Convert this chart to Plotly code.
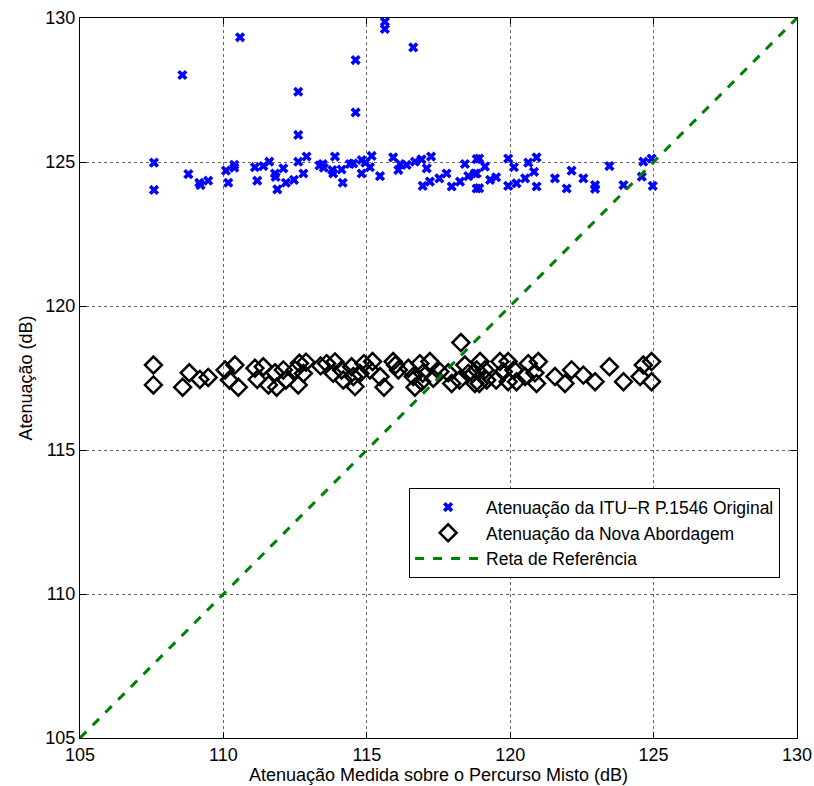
import plotly.graph_objects as go

# Original ITU-R P.1546 attenuation (blue x)
itu_x = [107.58, 107.58, 108.78, 109.16, 109.2, 109.47, 110.09, 110.17, 110.38, 110.38,
         111.10, 111.18, 111.39, 111.60, 111.80, 111.82, 112.09, 111.88, 112.18, 112.46,
         112.61, 112.79, 112.90, 113.46, 113.35, 113.5, 113.89, 113.83, 113.8, 114.12,
         114.16, 114.41, 114.53, 114.82, 114.82, 115.17, 115.11, 114.95, 115.46, 115.92,
         116.10, 116.16, 116.39, 116.68, 116.91, 117.09, 117.24, 116.95, 117.20, 117.53,
         117.78, 117.96, 118.25, 118.42, 118.54, 118.83, 118.83, 118.83, 118.92, 118.77,
         119.12, 118.92, 119.30, 119.51, 119.93, 120.13, 119.93, 120.22, 120.52, 120.63,
         120.92, 120.83, 120.92, 121.56, 121.97, 122.14, 122.55, 122.96, 122.96, 123.46,
         123.95, 124.59, 124.64, 124.93, 124.97,
         108.57, 110.58, 112.61, 112.61, 114.61, 114.61, 115.63, 115.63, 116.62]
itu_y = [124.98, 124.03, 124.58, 124.28, 124.20, 124.35, 124.70, 124.28, 124.90, 124.80,
         124.82, 124.35, 124.86, 125.01, 124.60, 124.48, 124.78, 124.05, 124.28, 124.38,
         125.01, 124.60, 125.19, 124.93, 124.88, 124.80, 125.19, 124.60, 124.72, 124.74,
         124.28, 124.93, 124.95, 125.07, 124.60, 125.21, 124.82, 124.98, 124.51, 125.16,
         124.72, 124.93, 124.90, 125.01, 125.09, 124.78, 125.19, 124.17, 124.32, 124.43,
         124.60, 124.15, 124.32, 124.93, 124.51, 125.10, 124.60, 124.08, 125.12, 124.60,
         124.84, 124.09, 124.38, 124.47, 125.12, 124.82, 124.17, 124.26, 124.43, 124.98,
         125.16, 124.66, 124.15, 124.43, 124.08, 124.70, 124.43, 124.20, 124.07, 124.86,
         124.20, 124.49, 125.01, 125.12, 124.17,
         128.02, 129.33, 127.44, 125.94, 128.54, 126.72, 129.87, 129.62, 128.98]

# New approach attenuation (black diamonds)
nova_x = [107.56, 107.56, 108.58, 108.81, 109.18, 109.47, 110.06, 110.40, 110.21, 110.52,
          111.10, 111.39, 111.18, 111.57, 111.80, 111.86, 112.09, 112.18, 112.50, 112.65,
          112.79, 112.61, 112.88, 113.39, 113.60, 113.83, 113.89, 114.12, 114.18, 114.47,
          114.53, 114.59, 114.76, 114.90, 115.11, 115.20, 115.46, 115.60, 115.92, 116.00,
          116.10, 116.45, 116.62, 116.68, 116.85, 116.95, 116.91, 117.20, 117.32, 117.55,
          117.84, 117.96, 118.28, 118.23, 118.42, 118.54, 118.77, 118.83, 118.95, 118.70,
          119.12, 118.92, 119.18, 119.51, 119.64, 119.76, 119.93, 119.93, 120.13, 120.22,
          120.52, 120.63, 120.86, 120.92, 120.98, 121.56, 121.91, 122.14, 122.55, 122.96,
          123.46, 123.95, 124.53, 124.64, 124.93, 124.93]
nova_y = [117.95, 117.26, 117.18, 117.68, 117.45, 117.52, 117.78, 117.95, 117.43, 117.18,
          117.84, 117.89, 117.45, 117.26, 117.68, 117.18, 117.78, 117.43, 117.78, 118.01,
          117.66, 117.26, 118.05, 117.92, 118.00, 117.66, 118.06, 117.78, 117.43, 117.89,
          117.55, 117.20, 117.66, 118.00, 117.78, 118.07, 117.55, 117.18, 118.07, 117.95,
          117.78, 117.84, 117.55, 117.18, 118.00, 117.66, 117.37, 118.07, 117.49, 117.72,
          117.68, 117.31, 118.73, 117.43, 117.95, 117.66, 117.31, 117.78, 118.07, 117.66,
          117.78, 117.31, 117.43, 117.43, 118.07, 117.72, 118.07, 117.37, 117.78, 117.37,
          117.55, 118.00, 117.68, 117.31, 118.07, 117.55, 117.31, 117.78, 117.60, 117.37,
          117.89, 117.37, 117.55, 117.95, 118.07, 117.37]

# Reference line
ref_x = [105, 130]
ref_y = [105, 130]

tick_vals = [105, 110, 115, 120, 125, 130]

font_family = '"Liberation Sans", Arial, Helvetica, sans-serif'

fig = go.Figure()
fig.add_trace(go.Scatter(
    x=itu_x, y=itu_y, mode="markers", name="Atenuação da ITU−R P.1546 Original",
    marker=dict(symbol="x", size=9, color="#0000ff", line=dict(width=0)),
    legendgroup="a"))
fig.add_trace(go.Scatter(
    x=nova_x, y=nova_y, mode="markers", name="Atenuação da Nova Abordagem",
    marker=dict(symbol="diamond-open", size=13, color="black",
                line=dict(width=2.5, color="black")),
    legendgroup="b"))
fig.add_trace(go.Scatter(
    x=ref_x, y=ref_y, mode="lines", name="Reta de Referência",
    line=dict(color="#008000", width=3, dash="dash"),
    legendgroup="c"))

axis_common = dict(
    range=[105, 130], tickvals=tick_vals, ticktext=[str(v) for v in tick_vals],
    showgrid=True, gridcolor="rgba(0,0,0,0.6)", griddash="dot", gridwidth=1,
    zeroline=False, showline=True, linecolor="black", linewidth=1, mirror="ticks",
    ticks="inside", ticklen=6, tickcolor="black", automargin=False,
    tickfont=dict(family=font_family, size=18, color="black"),
)

fig.update_layout(
    width=814, height=786,
    margin=dict(l=80, r=17, t=18, b=48, autoexpand=False),
    paper_bgcolor="white", plot_bgcolor="white",
    font=dict(family=font_family, size=18, color="black"),
    xaxis=dict(axis_common, title=dict(text="Atenuação Medida sobre o Percurso Misto (dB)",
                                      font=dict(size=18), standoff=4)),
    yaxis=dict(axis_common, title=dict(text="Atenuação (dB)", font=dict(size=18), standoff=8)),
    legend=dict(x=0.459, y=0.347, xanchor="left", yanchor="top",
                bgcolor="white", bordercolor="black", borderwidth=1,
                font=dict(family=font_family, size=17.5),
                tracegroupgap=0, itemwidth=66),
    showlegend=True,
)

fig.write_html("out.html",
               config={"displayModeBar": False},
               post_script="document.body.style.margin='0px';document.body.style.overflow='hidden';")
